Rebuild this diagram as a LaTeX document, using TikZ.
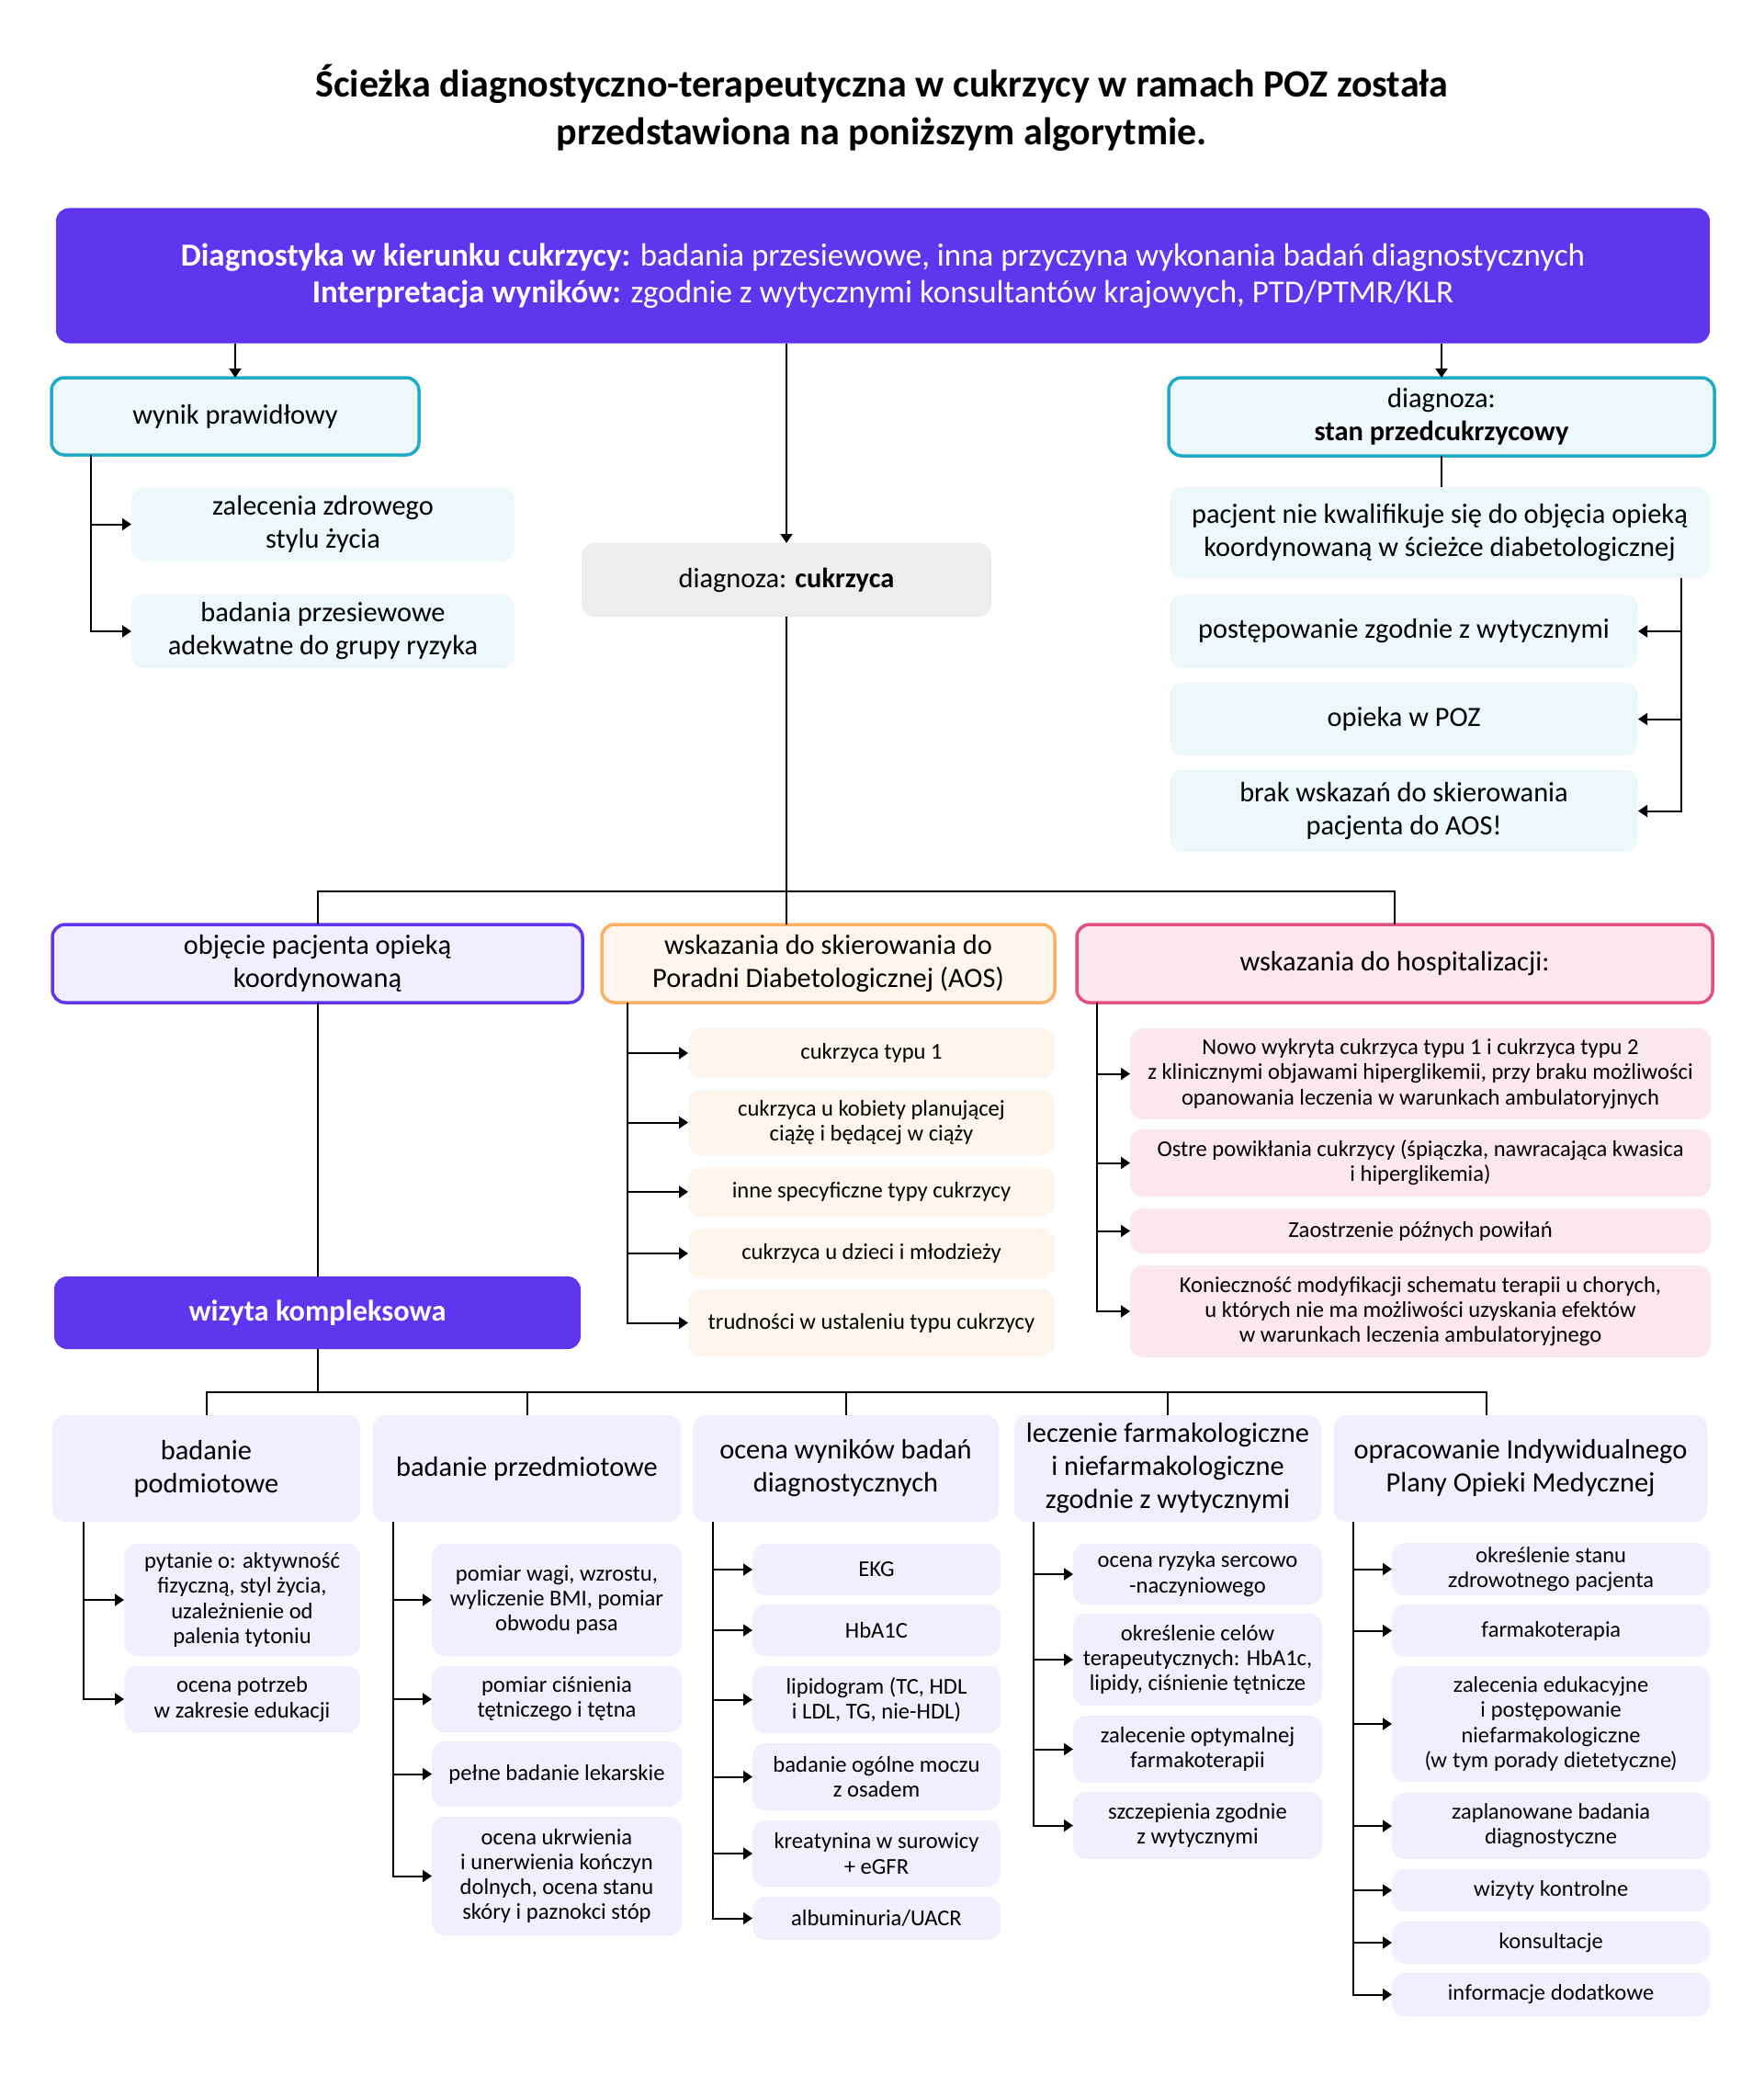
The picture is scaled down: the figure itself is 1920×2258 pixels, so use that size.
\documentclass[tikz,border=0pt]{standalone}
\usepackage{fontspec}
\setmainfont{Carlito}
\newfontfamily\latofont{Lato}
\usetikzlibrary{arrows.meta}

\definecolor{vio}{HTML}{5F36EE}
\definecolor{tealline}{HTML}{1FAAC5}
\definecolor{cyanfill}{HTML}{EDF8FA}
\definecolor{greyfill}{HTML}{EDEDED}
\definecolor{lavfill}{HTML}{F1EEFD}
\definecolor{orline}{HTML}{FBB063}
\definecolor{orfill}{HTML}{FEF6EC}
\definecolor{pkline}{HTML}{E2517D}
\definecolor{pkfill}{HTML}{FDE7EE}

\newcommand{\titlefont}{\fontsize{21}{26}\selectfont\bfseries}
\newcommand{\hdrfont}{\fontsize{17.5}{20}\selectfont}
\newcommand{\bigfont}{\fontsize{15.2}{18}\selectfont}
\newcommand{\smallfont}{\fontsize{12.3}{13.6}\selectfont}
\newcommand{\latosmall}{\latofont\fontsize{11.5}{13.6}\selectfont}

\tikzset{
  box/.style={rounded corners=7pt, align=center, inner sep=1pt, outer sep=0pt},
  hdr/.style={box, fill=vio, text=white, font=\hdrfont},
  result/.style={box, draw=tealline, line width=1.75pt, fill=cyanfill, font=\bigfont},
  advice/.style={box, fill=cyanfill, font=\bigfont},
  diag/.style={box, fill=greyfill, font=\bigfont},
  branch/.style={box, line width=1.75pt, font=\bigfont, minimum height=42.5pt},
  aositem/.style={box, fill=orfill, font=\smallfont, minimum width=199.5pt},
  hospitem/.style={box, fill=pkfill, font=\smallfont, minimum width=316pt},
  visit/.style={box, fill=vio, text=white, font=\fontsize{16.2}{18}\selectfont\bfseries},
  colhead/.style={box, fill=lavfill, font=\bigfont, minimum height=58pt},
  colitem/.style={box, fill=lavfill, font=\smallfont},
}

\begin{document}
\begin{tikzpicture}[x=0.5pt, y=-0.5pt, line width=1pt, >={Triangle[length=5pt, width=6.5pt]}]
\fill[white] (0,0) rectangle (1920,2258);
\useasboundingbox (0,0) rectangle (1920,2258);

\node[font=\titlefont, align=center] (title) at (960,117) {Ścieżka diagnostyczno-terapeutyczna w cukrzycy w ramach POZ została\\przedstawiona na poniższym algorytmie.};

\node[hdr, minimum width=900pt, minimum height=73.5pt] (start) at (961,300) {\textbf{Diagnostyka w kierunku cukrzycy:} badania przesiewowe, inna przyczyna wykonania badań diagnostycznych\\\textbf{Interpretacja wyników:} zgodnie z wytycznymi konsultantów krajowych, PTD/PTMR/KLR};

% pierwszy poziom
\node[result, minimum width=200pt, minimum height=42pt] (normal) at (256,453) {wynik prawidłowy};
\node[result, minimum width=297pt, minimum height=42.5pt] (prediab) at (1569,453.5) {diagnoza:\\\textbf{stan przedcukrzycowy}};
\node[diag, minimum width=223pt, minimum height=40pt] (diab) at (856,631) {diagnoza: \textbf{cukrzyca}};

\node[advice, minimum width=208.5pt, minimum height=39.5pt] (lifestyle) at (351.5,570.5) {zalecenia zdrowego\\stylu życia};
\node[advice, minimum width=208.5pt, minimum height=40pt] (screening) at (351.5,687) {badania przesiewowe\\adekwatne do grupy ryzyka};

\node[advice, minimum width=294pt, minimum height=49.5pt] (noqual) at (1567,579.5) {pacjent nie kwalifikuje się do objęcia opieką\\koordynowaną w ścieżce diabetologicznej};
\node[advice, minimum width=255pt, minimum height=40pt] (guide) at (1528,687) {postępowanie zgodnie z wytycznymi};
\node[advice, minimum width=255pt, minimum height=39.5pt] (poz) at (1528,782.5) {opieka w POZ};
\node[advice, minimum width=255pt, minimum height=44.5pt] (noaos) at (1528,882.5) {brak wskazań do skierowania\\pacjenta do AOS!};

% drugi poziom
\node[branch, draw=vio, fill=lavfill, minimum width=288.5pt] (coord) at (345.5,1048.5) {objęcie pacjenta opieką\\koordynowaną};
\node[branch, draw=orline, fill=orfill, minimum width=246.5pt] (aos) at (901.5,1048.5) {wskazania do skierowania do\\Poradni Diabetologicznej (AOS)};
\node[branch, draw=pkline, fill=pkfill, minimum width=346pt] (hosp) at (1518,1048.5) {wskazania do hospitalizacji:};

\node[aositem, minimum height=27pt] (aos1) at (948.5,1146) {cukrzyca typu 1};
\node[aositem, minimum height=35.5pt] (aos2) at (948.5,1221.5) {cukrzyca u kobiety planującej\\ciążę i będącej w ciąży};
\node[aositem, minimum height=27pt] (aos3) at (948.5,1297) {inne specyficzne typy cukrzycy};
\node[aositem, minimum height=27pt] (aos4) at (948.5,1364) {cukrzyca u dzieci i młodzieży};
\node[aositem, minimum height=36.5pt] (aos5) at (948.5,1439.5) {trudności w ustaleniu typu cukrzycy};

\node[hospitem, minimum height=49.5pt] (hosp1) at (1546,1168.5) {Nowo wykryta cukrzyca typu 1 i cukrzyca typu 2\\z klinicznymi objawami hiperglikemii, przy braku możliwości\\opanowania leczenia w warunkach ambulatoryjnych};
\node[hospitem, minimum height=36.5pt] (hosp2) at (1546,1265.5) {Ostre powikłania cukrzycy (śpiączka, nawracająca kwasica\\i hiperglikemia)};
\node[hospitem, minimum height=24.5pt] (hosp3) at (1546,1339.5) {Zaostrzenie późnych powiłań};
\node[hospitem, minimum height=50pt] (hosp4) at (1546,1427) {Konieczność modyfikacji schematu terapii u chorych,\\u których nie ma możliwości uzyskania efektów\\w warunkach leczenia ambulatoryjnego};

\node[visit, minimum width=286.5pt, minimum height=39.5pt] (visit) at (345.5,1428.5) {wizyta kompleksowa};

% wizyta kompleksowa
\node[colhead, minimum width=167.5pt] (subj) at (224.5,1598) {badanie\\podmiotowe};
\node[colhead, minimum width=167.5pt] (phys) at (573.5,1598) {badanie przedmiotowe};
\node[colhead, minimum width=166.5pt] (tests) at (920.5,1598) {ocena wyników badań\\diagnostycznych};
\node[colhead, minimum width=167pt] (treat) at (1271,1598) {leczenie farmakologiczne\\i niefarmakologiczne\\zgodnie z wytycznymi};
\node[colhead, minimum width=203pt] (plan) at (1655,1598) {opracowanie Indywidualnego\\Plany Opieki Medycznej};

\node[colitem, minimum width=128.5pt, minimum height=61pt] (subj1) at (263.5,1741) {pytanie o: aktywność\\fizyczną, styl życia,\\uzależnienie od\\palenia tytoniu};
\node[colitem, minimum width=128.5pt, minimum height=36pt] (subj2) at (263.5,1849) {ocena potrzeb\\w zakresie edukacji};

\node[colitem, minimum width=136pt, minimum height=61pt] (phys1) at (606,1741) {pomiar wagi, wzrostu,\\wyliczenie BMI, pomiar\\obwodu pasa};
\node[colitem, minimum width=136pt, minimum height=36pt] (phys2) at (606,1849) {pomiar ciśnienia\\tętniczego i tętna};
\node[colitem, minimum width=136pt, minimum height=35.5pt] (phys3) at (606,1930.5) {pełne badanie lekarskie};
\node[colitem, minimum width=136pt, minimum height=64.5pt] (phys4) at (606,2041.5) {ocena ukrwienia\\i unerwienia kończyn\\dolnych, ocena stanu\\skóry i paznokci stóp};

\node[colitem, minimum width=135pt, minimum height=28pt] (tests1) at (954,1708) {EKG};
\node[colitem, minimum width=135pt, minimum height=28pt] (tests2) at (954,1774) {HbA1C};
\node[colitem, minimum width=135pt, minimum height=36.5pt] (tests3) at (954,1849.5) {lipidogram (TC, HDL\\i LDL, TG, nie-HDL)};
\node[colitem, minimum width=135pt, minimum height=36.5pt] (tests4) at (954,1933.5) {badanie ogólne moczu\\z osadem};
\node[colitem, minimum width=135pt, minimum height=36pt] (tests5) at (954,2017) {kreatynina w surowicy\\+ eGFR};
\node[colitem, minimum width=135pt, minimum height=23.5pt] (tests6) at (954,2087.5) {albuminuria/UACR};

\node[colitem, minimum width=135.5pt, minimum height=33pt] (treat1) at (1303.5,1713) {ocena ryzyka sercowo\\-naczyniowego};
\node[colitem, minimum width=135.5pt, minimum height=50pt] (treat2) at (1303.5,1806) {określenie celów\\terapeutycznych: HbA1c,\\lipidy, ciśnienie tętnicze};
\node[colitem, minimum width=135.5pt, minimum height=36.5pt] (treat3) at (1303.5,1903.5) {zalecenie optymalnej\\farmakoterapii};
\node[colitem, minimum width=135.5pt, minimum height=36.5pt] (treat4) at (1303.5,1986.5) {szczepienia zgodnie\\z wytycznymi};

\node[colitem, font=\latosmall, minimum width=173pt, minimum height=28.5pt] (plan1) at (1688,1707.5) {określenie stanu\\zdrowotnego pacjenta};
\node[colitem, font=\latosmall, minimum width=173pt, minimum height=28.5pt] (plan2) at (1688,1774.5) {farmakoterapia};
\node[colitem, font=\latosmall, minimum width=173pt, minimum height=63pt] (plan3) at (1688,1876) {zalecenia edukacyjne\\i postępowanie\\niefarmakologiczne\\(w tym porady dietetyczne)};
\node[colitem, font=\latosmall, minimum width=173pt, minimum height=36pt] (plan4) at (1688,1987) {zaplanowane badania\\diagnostyczne};
\node[colitem, font=\latosmall, minimum width=173pt, minimum height=23pt] (plan5) at (1688,2057) {wizyty kontrolne};
\node[colitem, font=\latosmall, minimum width=173pt, minimum height=23pt] (plan6) at (1688,2114) {konsultacje};
\node[colitem, font=\latosmall, minimum width=173pt, minimum height=23.5pt] (plan7) at (1688,2170.5) {informacje dodatkowe};

\coordinate (split) at (856,970);
\coordinate (visitsplit) at (345.5,1515);
\coordinate (planin) at (1618,1540);

% polaczenia
\draw[->] (normal |- start.south) -- (normal.north);
\draw[->] (prediab |- start.south) -- (prediab.north);
\draw[->] (diab |- start.south) -- (diab.north);
\foreach \n in {lifestyle,screening}
  \draw[->] ([xshift=21.5pt]normal.south west) |- (\n.west);
\draw (prediab.south) -- (prediab.south |- noqual.north);
\foreach \n in {guide,poz,noaos}
  \draw[->] ([xshift=-15.5pt]noqual.south east) |- (\n.east);
\draw (diab.south) -- (diab.south |- aos.north);
\draw (coord.north) |- (split) -| (hosp.north);
\foreach \n in {aos1,aos2,aos3,aos4,aos5}
  \draw[->] ([xshift=14pt]aos.south west) |- (\n.west);
\foreach \n in {hosp1,hosp2,hosp3,hosp4}
  \draw[->] ([xshift=11pt]hosp.south west) |- (\n.west);
\draw (coord.south) -- (visit.north);
\draw (visit.south) -- (visitsplit);
\draw (subj.north) |- (visitsplit) -| (planin);
\foreach \n in {phys,tests,treat}
  \draw (\n.north) -- (\n.north |- visitsplit);
\foreach \n in {subj1,subj2}
  \draw[->] ([xshift=17pt]subj.south west) |- (\n.west);
\foreach \n in {phys1,phys2,phys3,phys4}
  \draw[->] ([xshift=11pt]phys.south west) |- (\n.west);
\foreach \n in {tests1,tests2,tests3,tests4,tests5,tests6}
  \draw[->] ([xshift=11pt]tests.south west) |- (\n.west);
\foreach \n in {treat1,treat2,treat3,treat4}
  \draw[->] ([xshift=10.5pt]treat.south west) |- (\n.west);
\foreach \n in {plan1,plan2,plan3,plan4,plan5,plan6,plan7}
  \draw[->] ([xshift=10.5pt]plan.south west) |- (\n.west);
\end{tikzpicture}
\end{document}
